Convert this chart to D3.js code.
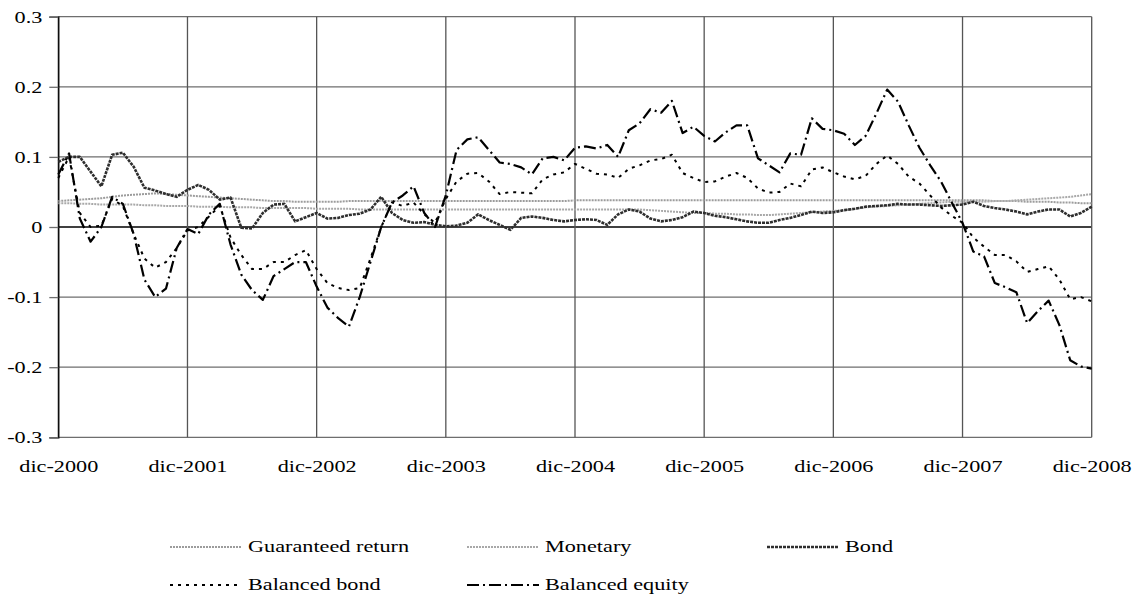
<!DOCTYPE html>
<html><head><meta charset="utf-8">
<script src="https://cdn.jsdelivr.net/npm/d3@7"></script>
<style>
html,body{margin:0;padding:0;background:#fff;}
svg{display:block;}
svg text{font-family:"Liberation Serif","Times New Roman",serif;}
</style></head>
<body>
<svg id="chart" width="1139" height="603"></svg>
<script>
// ---- DATA (monthly, Dec 2000 .. Dec 2008) ----
const tickLabels = ["dic-2000","dic-2001","dic-2002","dic-2003","dic-2004","dic-2005","dic-2006","dic-2007","dic-2008"];
const yTicks = [-0.3,-0.2,-0.1,0,0.1,0.2,0.3];
const seriesNames = ["Guaranteed return","Monetary","Bond","Balanced bond","Balanced equity"];

const guaranteed = [
 0.037,0.038,0.039,0.040,0.041,0.043,0.045,0.046,0.047,0.048,0.047,0.046,
 0.045,0.044,0.043,0.042,0.041,0.040,0.039,0.038,0.037,0.037,0.036,0.036,
 0.036,0.036,0.036,0.037,0.037,0.037,0.037,0.037,0.037,0.037,0.037,0.037,
 0.037,0.037,0.037,0.037,0.037,0.037,0.037,0.037,0.037,0.037,0.037,0.037,
 0.038,0.038,0.038,0.038,0.038,0.038,0.038,0.038,0.038,0.038,0.038,0.038,
 0.038,0.038,0.038,0.038,0.038,0.038,0.038,0.038,0.038,0.038,0.038,0.038,
 0.038,0.038,0.038,0.038,0.038,0.038,0.038,0.038,0.038,0.038,0.038,0.038,
 0.038,0.038,0.038,0.037,0.037,0.037,0.036,0.036,0.036,0.035,0.035,0.034,
 0.034];
const monetary = [
 0.034,0.034,0.033,0.033,0.032,0.032,0.032,0.032,0.031,0.031,0.030,0.030,
 0.030,0.029,0.029,0.029,0.028,0.028,0.028,0.027,0.027,0.027,0.027,0.027,
 0.026,0.026,0.026,0.026,0.025,0.025,0.025,0.025,0.025,0.025,0.025,0.025,
 0.025,0.025,0.025,0.025,0.025,0.025,0.025,0.025,0.025,0.025,0.025,0.025,
 0.025,0.025,0.025,0.025,0.025,0.025,0.025,0.024,0.023,0.022,0.021,0.020,
 0.020,0.019,0.019,0.018,0.018,0.017,0.017,0.018,0.019,0.020,0.021,0.022,
 0.023,0.024,0.026,0.028,0.029,0.030,0.031,0.032,0.033,0.034,0.035,0.036,
 0.036,0.036,0.036,0.037,0.037,0.038,0.039,0.040,0.041,0.042,0.043,0.045,
 0.047];
const bond = [
 0.093,0.100,0.100,0.079,0.058,0.103,0.106,0.086,0.056,0.052,0.047,0.043,
 0.053,0.060,0.053,0.039,0.042,-0.001,-0.002,0.020,0.032,0.033,0.008,0.014,
 0.020,0.012,0.013,0.017,0.019,0.025,0.043,0.020,0.010,0.006,0.007,0.003,
 0.001,0.002,0.006,0.018,0.010,0.003,-0.004,0.013,0.015,0.013,0.010,0.008,
 0.010,0.011,0.010,0.003,0.018,0.025,0.022,0.012,0.008,0.010,0.014,0.022,
 0.020,0.016,0.014,0.011,0.008,0.006,0.006,0.010,0.013,0.017,0.022,0.020,
 0.021,0.024,0.026,0.029,0.030,0.031,0.033,0.032,0.032,0.031,0.030,0.031,
 0.032,0.036,0.030,0.027,0.025,0.022,0.018,0.022,0.025,0.025,0.015,0.020,
 0.029];
const balancedBond = [
 0.070,0.100,0.020,0.000,0.002,0.040,0.030,-0.010,-0.045,-0.058,-0.050,-0.030,
 -0.005,0.000,0.015,0.030,-0.015,-0.040,-0.060,-0.060,-0.050,-0.050,-0.040,-0.033,
 -0.060,-0.080,-0.087,-0.090,-0.087,-0.045,0.000,0.035,0.030,0.035,0.018,0.006,
 0.040,0.065,0.076,0.077,0.065,0.047,0.050,0.049,0.048,0.068,0.075,0.078,
 0.090,0.083,0.076,0.075,0.070,0.083,0.088,0.095,0.097,0.103,0.077,0.070,
 0.064,0.065,0.072,0.077,0.070,0.055,0.049,0.050,0.062,0.058,0.082,0.085,
 0.078,0.072,0.068,0.073,0.090,0.102,0.090,0.072,0.062,0.045,0.028,0.016,
 0.006,-0.015,-0.028,-0.040,-0.040,-0.049,-0.064,-0.060,-0.056,-0.075,-0.103,-0.100,
 -0.106];
const balancedEquity = [
 0.075,0.105,0.012,-0.021,0.000,0.043,0.033,-0.010,-0.075,-0.100,-0.088,-0.030,
 -0.003,-0.010,0.018,0.033,-0.025,-0.068,-0.090,-0.104,-0.070,-0.060,-0.050,-0.050,
 -0.085,-0.115,-0.130,-0.142,-0.100,-0.050,0.000,0.035,0.045,0.058,0.020,0.000,
 0.045,0.110,0.125,0.128,0.110,0.092,0.090,0.085,0.075,0.098,0.100,0.095,
 0.113,0.115,0.112,0.117,0.100,0.138,0.148,0.168,0.163,0.180,0.134,0.143,
 0.130,0.122,0.135,0.145,0.145,0.098,0.088,0.078,0.105,0.103,0.155,0.140,
 0.138,0.133,0.117,0.130,0.162,0.196,0.179,0.145,0.113,0.088,0.065,0.035,
 0.006,-0.035,-0.042,-0.080,-0.086,-0.093,-0.137,-0.120,-0.105,-0.140,-0.190,-0.199,
 -0.202];

// ---- CHART ----
const svg = d3.select("#chart");
const pLeft = 58.3, pRight = 1091.7, pTop = 16.7, pBottom = 437.3;
const nMonths = 97;
const x = d3.scaleLinear().domain([0, nMonths - 1]).range([pLeft, pRight]);
const y = d3.scaleLinear().domain([-0.3, 0.3]).range([pBottom, pTop]);
const FONT = '"Liberation Serif","Times New Roman",serif';
const FS = 17.5, STRETCH = 1.27;

function styleText(sel) {
  sel.style("font-family", FONT).attr("font-family", null)
     .attr("font-size", FS).attr("fill", "#000");
  sel.each(function () {
    const w = this.getComputedTextLength();
    d3.select(this).attr("textLength", w * STRETCH).attr("lengthAdjust", "spacingAndGlyphs");
  });
}

// gridlines
const grid = svg.append("g");
grid.selectAll("line.h").data(yTicks).join("line")
  .attr("x1", pLeft).attr("x2", pRight)
  .attr("y1", d => y(d)).attr("y2", d => y(d))
  .attr("stroke", d => d === 0 ? "#000" : "#6e6e6e").attr("stroke-width", 1.3);
grid.selectAll("line.v").data(tickLabels.map((t, i) => i * 12)).join("line")
  .attr("x1", d => x(d)).attr("x2", d => x(d))
  .attr("y1", pTop).attr("y2", pBottom)
  .attr("stroke", "#555").attr("stroke-width", 1.3);

// y axis
const yAxis = d3.axisLeft(y).tickValues(yTicks).tickSize(9).tickPadding(7)
  .tickFormat(d => String(+d.toFixed(1)));
const ya = svg.append("g").attr("transform", `translate(${pLeft},0)`).call(yAxis);
ya.attr("font-family", null);
ya.select(".domain").attr("stroke", "#000").attr("stroke-width", 1.3);
ya.selectAll(".tick line").attr("stroke", "#6e6e6e").attr("stroke-width", 1.3);
styleText(ya.selectAll("text"));

// x axis labels
const xAxis = d3.axisBottom(x).tickValues(tickLabels.map((t, i) => i * 12))
  .tickSize(0).tickPadding(22).tickFormat((d, i) => tickLabels[i]);
const xa = svg.append("g").attr("transform", `translate(0,${pBottom})`).call(xAxis);
xa.attr("font-family", null);
xa.select(".domain").remove();
styleText(xa.selectAll("text"));

// series styles
const styles = {
  "Guaranteed return": {data: guaranteed, stroke: "#9c9c9c", width: 2, dash: "2,1"},
  "Monetary": {data: monetary, stroke: "#a8a8a8", width: 2, dash: "2,1"},
  "Bond": {data: bond, stroke: "#2e2e2e", width: 2.6, dash: "3,1"},
  "Balanced bond": {data: balancedBond, stroke: "#000", width: 2, dash: "3,5"},
  "Balanced equity": {data: balancedEquity, stroke: "#000", width: 2.2, dash: "12,4,2,4"}
};

const line = d3.line().x((d, i) => x(i)).y(d => y(d));
const plot = svg.append("g");
seriesNames.forEach(name => {
  const s = styles[name];
  plot.append("path").datum(s.data)
    .attr("fill", "none").attr("stroke", s.stroke).attr("stroke-width", s.width)
    .attr("stroke-dasharray", s.dash).attr("stroke-linejoin", "round")
    .attr("d", line);
});

// legend
const legendPos = [
  {name: "Guaranteed return", x: 170, y: 552},
  {name: "Monetary", x: 467, y: 552},
  {name: "Bond", x: 767, y: 552},
  {name: "Balanced bond", x: 170, y: 590},
  {name: "Balanced equity", x: 467, y: 590}
];
const lg = svg.append("g");
legendPos.forEach(p => {
  const s = styles[p.name];
  lg.append("line").attr("x1", p.x).attr("x2", p.x + 72)
    .attr("y1", p.y - 5).attr("y2", p.y - 5)
    .attr("stroke", s.stroke).attr("stroke-width", s.width).attr("stroke-dasharray", s.dash);
  const t = lg.append("text").attr("x", p.x + 78).attr("y", p.y).text(p.name);
  styleText(t);
});
</script>
</body></html>
